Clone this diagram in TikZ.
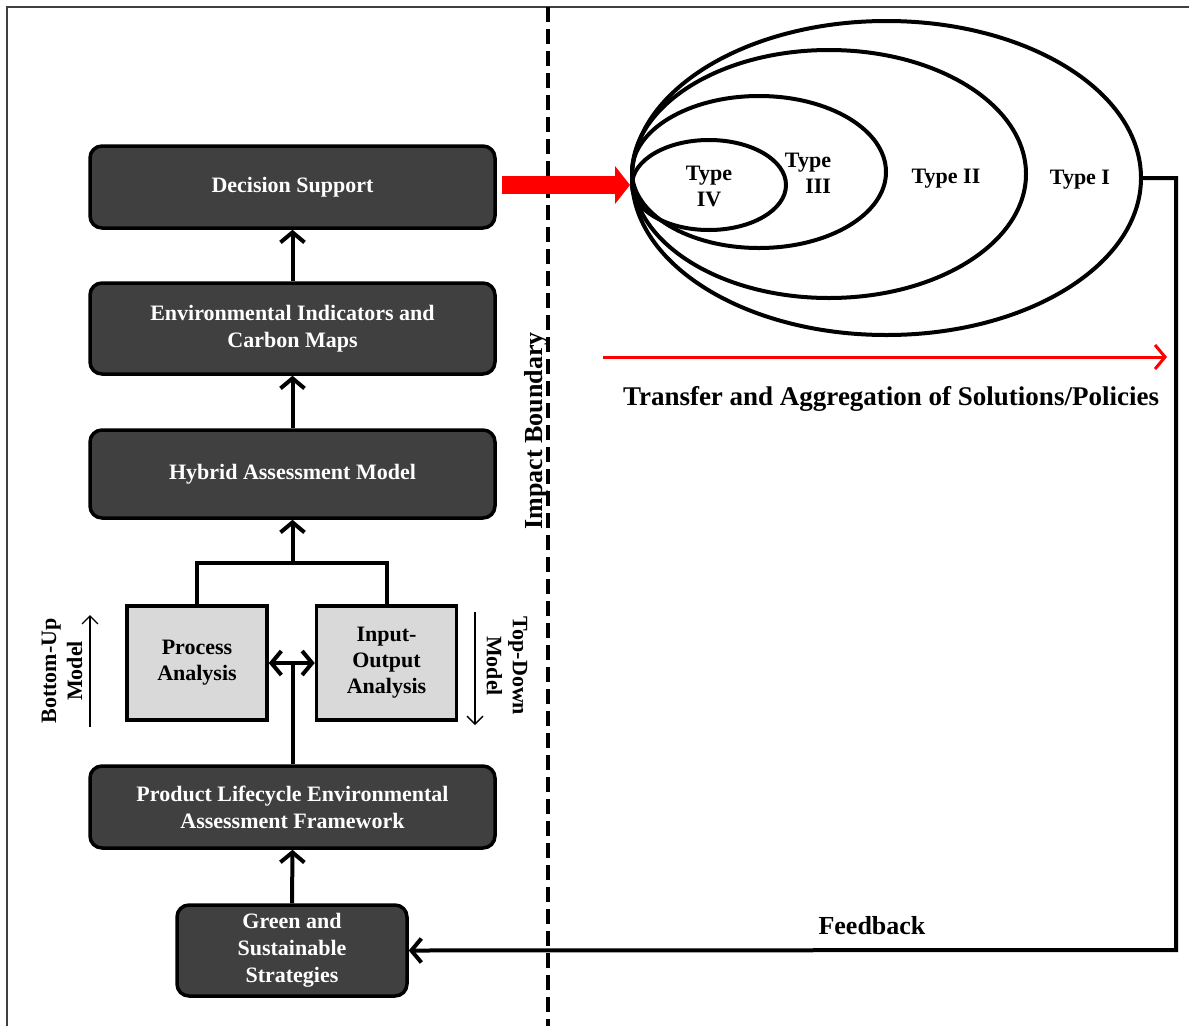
\documentclass[tikz,border=0pt]{standalone}
\usepackage{fontspec}
\setmainfont{Liberation Serif}
\usetikzlibrary{arrows.meta,shapes.geometric}
\definecolor{darkbox}{HTML}{404040}
\definecolor{lightbox}{HTML}{D9D9D9}
\begin{document}
\begin{tikzpicture}[x=1pt,y=-1pt,
  darknode/.style={draw=black, line width=3.5pt, fill=darkbox, rounded corners=12pt, text=white, font=\fontsize{22}{27}\selectfont\bfseries, align=center, inner sep=0pt},
  lightnode/.style={draw=black, line width=3.5pt, fill=lightbox, font=\fontsize{22}{26}\selectfont\bfseries, align=center, inner sep=0pt, minimum width=140pt, minimum height=114pt},
  oval/.style={draw=black, line width=4pt, ellipse, inner sep=0pt},
  conn/.style={draw=black, line width=4pt, -{Straight Barb[length=10pt,width=24pt]}},
  thinarrow/.style={draw=black, line width=1.3pt, -{Straight Barb[length=8pt,width=16pt]}},
  lbl/.style={font=\fontsize{22}{26}\selectfont\bfseries, align=center, inner sep=0pt},
  biglbl/.style={font=\fontsize{27}{31}\selectfont\bfseries, align=center, inner sep=0pt},
]
\useasboundingbox (0,0) rectangle (1189,1026);
\fill[white] (0,0) rectangle (1189,1026);
% frame
\draw[black!75, line width=2pt] (7,1026) -- (7,7) -- (1189,7);
% impact boundary
\draw[line width=4pt, dash pattern=on 15pt off 7pt] (548,7) -- (548,1026);
\node[biglbl, font=\fontsize{26}{30}\selectfont\bfseries, rotate=90] (ib) at (536,431) {Impact Boundary};

% left column
\node[darknode, minimum width=405pt, minimum height=82pt] (ds) at (292.5,187) {Decision Support};
\node[darknode, minimum width=405pt, minimum height=91pt] (ei) at (292.5,328.5) {Environmental Indicators and\\Carbon Maps};
\node[darknode, minimum width=405pt, minimum height=88pt] (hm) at (292.5,474) {Hybrid Assessment Model};
\node[lightnode] (pa) at (197,663) {Process\\Analysis};
\node[lightnode] (io) at (386.5,663) {Input-\\Output\\Analysis};
\node[darknode, minimum width=405pt, minimum height=82pt] (pl) at (292.5,807) {Product Lifecycle Environmental\\Assessment Framework};
\node[darknode, minimum width=230pt, minimum height=91pt] (gs) at (292,950.5) {Green and\\Sustainable\\Strategies};

\node[lbl, rotate=90] (bu) at (62,671) {Bottom-Up\\Model};
\coordinate (bua) at (90,727);
\coordinate (bub) at (90,615);
\draw[thinarrow] (bua) -- (bub);
\node[lbl, rotate=-90] (td) at (507,666) {Top-Down\\Model};
\coordinate (tda) at (475,612);
\coordinate (tdb) at (475,725);
\draw[thinarrow] (tda) -- (tdb);

% connectors
\draw[conn] (ei.north) -- (ds.south);
\draw[conn] (hm.north) -- (ei.south);
\coordinate (jn) at (292.5,563);
\draw[line width=4pt] (pa.north) |- (jn) -| (io.north);
\draw[conn] (jn) -- (hm.south);
\draw[conn, {Straight Barb[length=10pt,width=24pt]}-{Straight Barb[length=10pt,width=24pt]}] (pa.east) -- (io.west);
\coordinate (dm) at (292.5,663);
\draw[line width=4pt] (pl.north) -- (dm);
\draw[conn] (gs.north) -- (pl.south);

% ellipses
\node[oval, minimum width=509pt, minimum height=314pt] (e1) at (886.5,178) {};
\node[oval, minimum width=394pt, minimum height=248pt] (e2) at (829,174) {};
\node[oval, minimum width=254pt, minimum height=152pt] (e3) at (759,172) {};
\node[oval, minimum width=154pt, minimum height=90pt] (e4) at (709,185) {};
\node[lbl] (t4) at (709,186) {Type\\IV};
\node[lbl, align=right] (t3) at (808,173) {Type\\III};
\node[lbl] (t2) at (946,179) {Type II};
\node[lbl] (t1) at (1080,180) {Type I};

% red block arrow
\draw[red, line width=18pt, -{Triangle[length=15pt,width=38pt,line width=0pt]}, shorten <=5pt] (ds.east |- e4.west) -- (e4.west);

% transfer arrow
\coordinate (ra) at (603,357);
\coordinate (rb) at (1167,357);
\draw[red, line width=3pt, -{Straight Barb[length=10pt,width=24pt]}] (ra) -- (rb);
\node[biglbl] (tr) at (891,399) {Transfer and Aggregation of Solutions/Policies};

% feedback
\coordinate (fc) at (1176,950);
\draw[conn] (e1.east) -| (fc) -- (gs.east);
\node[biglbl, font=\fontsize{26}{30}\selectfont\bfseries] (fb) at (872,926) {Feedback};
\end{tikzpicture}
\end{document}
